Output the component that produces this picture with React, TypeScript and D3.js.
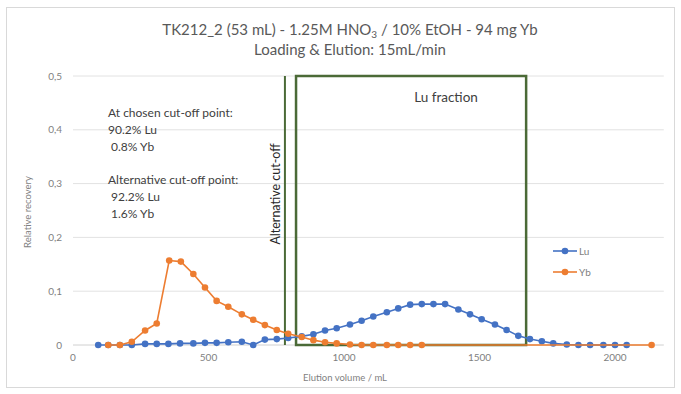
import React from "react";
import * as d3 from "d3";

const W = 681;
const H = 394;

const xTicks = [0, 500, 1000, 1500, 2000];
const yTicks = [0, 0.1, 0.2, 0.3, 0.4, 0.5];

const luVolume = [93, 130, 173, 217, 266, 309, 352, 395, 444, 487, 530, 573, 623, 665, 708, 752, 794, 844, 887, 930, 973, 1022, 1065, 1108, 1158, 1200, 1244, 1287, 1330, 1373, 1422, 1465, 1508, 1557, 1600, 1643, 1686, 1730, 1772, 1822, 1865, 1908, 1957, 2000, 2043];
const luRecovery = [0, 0, 0, 0, 0.002, 0.002, 0.002, 0.003, 0.003, 0.004, 0.004, 0.005, 0.006, 0, 0.010, 0.011, 0.013, 0.016, 0.020, 0.027, 0.031, 0.038, 0.045, 0.053, 0.061, 0.068, 0.075, 0.076, 0.076, 0.076, 0.066, 0.057, 0.048, 0.038, 0.028, 0.017, 0.011, 0.007, 0.003, 0.001, 0, 0, 0, 0, 0];

const ybVolume = [130, 173, 217, 266, 309, 355, 398, 444, 487, 530, 573, 623, 665, 708, 752, 794, 844, 887, 930, 973, 1022, 1065, 1108, 1158, 1200, 1244, 1287, 2135];
const ybRecovery = [0, 0, 0.006, 0.027, 0.040, 0.157, 0.155, 0.132, 0.107, 0.082, 0.071, 0.057, 0.047, 0.037, 0.028, 0.021, 0.015, 0.009, 0.005, 0.003, 0.001, 0, 0, 0, 0, 0, 0, 0];

const altCutoff = 782;
const luFraction = [823, 1672];

const annotationLines = [
  "At chosen cut-off point:",
  "90.2% Lu",
  " 0.8% Yb",
  "",
  "Alternative cut-off point:",
  " 92.2% Lu",
  " 1.6% Yb",
];

const FONT = "Lato, 'Open Sans', sans-serif";
const BLUE = "#4472C4";
const ORANGE = "#ED7D31";
const GREEN = "#4b6a37";

export default function App() {
  const x = d3.scaleLinear().domain([0, 2180]).range([73, 663.8]);
  const y = d3.scaleLinear().domain([0, 0.5]).range([345, 76]);

  const lu = luVolume.map((v, i) => [v, luRecovery[i]] as [number, number]);
  const yb = ybVolume.map((v, i) => [v, ybRecovery[i]] as [number, number]);
  const line = d3
    .line<[number, number]>()
    .x((d) => x(d[0]))
    .y((d) => y(d[1]));

  const [x0, x1] = x.range();

  return (
    <svg
      width={W}
      height={H}
      style={{ position: "absolute", left: 0, top: 0, background: "#fff" }}
      fontFamily={FONT}
    >
      <rect x={6.5} y={7.5} width={668} height={380} fill="#fff" stroke="#d9d9d9" />
      {/* Title */}
      <text x={350} y={35} textAnchor="middle" fontSize={15} fill="#595959">
        TK212_2 (53 mL) - 1.25M HNO
        <tspan fontSize={10} dy={3}>3</tspan>
        <tspan dy={-3}> / 10% EtOH - 94 mg Yb</tspan>
      </text>
      <text x={350} y={55} textAnchor="middle" fontSize={15} fill="#595959">
        Loading &amp; Elution: 15mL/min
      </text>

      {/* gridlines */}
      {yTicks.map((t) => (
        <line key={t} x1={x0} x2={x1} y1={y(t)} y2={y(t)} stroke={t === 0 ? "#d0d0d0" : "#e2e2e2"} strokeWidth={1} />
      ))}
      {yTicks.map((t) => (
        <text key={"yl" + t} x={62} y={y(t) + 3.5} textAnchor="end" fontSize={10} fill="#7f7f7f">
          {t === 0 ? "0" : d3.format(".1f")(t).replace(".", ",")}
        </text>
      ))}
      {xTicks.map((t) => (
        <text key={"xl" + t} x={x(t)} y={361} textAnchor="middle" fontSize={10} fill="#7f7f7f">
          {t}
        </text>
      ))}
      <text x={345} y={381} textAnchor="middle" fontSize={9.5} fill="#7f7f7f">
        Elution volume / mL
      </text>
      <text
        transform={`translate(31, 212) rotate(-90)`}
        textAnchor="middle"
        fontSize={9.5}
        fill="#7f7f7f"
      >
        Relative recovery
      </text>

      {/* annotation */}
      {annotationLines.map((s, i) => (
        <text key={"a" + i} x={108} y={117 + i * 16.8} fontSize={12} fill="#404040" xmlSpace="preserve">
          {s}
        </text>
      ))}

      {/* Alternative cut-off line */}
      <line x1={x(altCutoff)} x2={x(altCutoff)} y1={y(0.5)} y2={y(0)} stroke={GREEN} strokeWidth={2} />
      <text
        transform={`translate(${x(altCutoff) - 5}, 194) rotate(-90)`}
        textAnchor="middle"
        fontSize={12.5}
        fill="#262626"
      >
        Alternative cut-off
      </text>

      {/* Lu fraction box */}
      <rect
        x={x(luFraction[0])}
        y={y(0.5)}
        width={x(luFraction[1]) - x(luFraction[0])}
        height={y(0) - y(0.5)}
        fill="none"
        stroke={GREEN}
        strokeWidth={2.5}
      />
      <text x={446} y={102} textAnchor="middle" fontSize={13.5} fill="#404040">
        Lu fraction
      </text>

      {/* series */}
      <path d={line(lu) || ""} fill="none" stroke={BLUE} strokeWidth={1.6} />
      {lu.map((d, i) => (
        <circle key={"lu" + i} cx={x(d[0])} cy={y(d[1])} r={3.3} fill={BLUE} />
      ))}
      <path d={line(yb) || ""} fill="none" stroke={ORANGE} strokeWidth={1.6} />
      {yb.map((d, i) => (
        <circle key={"yb" + i} cx={x(d[0])} cy={y(d[1])} r={3.3} fill={ORANGE} />
      ))}

      {/* legend */}
      <line x1={553} x2={577} y1={251} y2={251} stroke={BLUE} strokeWidth={1.6} />
      <circle cx={565} cy={251} r={3.3} fill={BLUE} />
      <text x={579} y={254.5} fontSize={10} fill="#7f7f7f">Lu</text>
      <line x1={553} x2={577} y1={272} y2={272} stroke={ORANGE} strokeWidth={1.6} />
      <circle cx={565} cy={272} r={3.3} fill={ORANGE} />
      <text x={579} y={275.5} fontSize={10} fill="#7f7f7f">Yb</text>
    </svg>
  );
}
